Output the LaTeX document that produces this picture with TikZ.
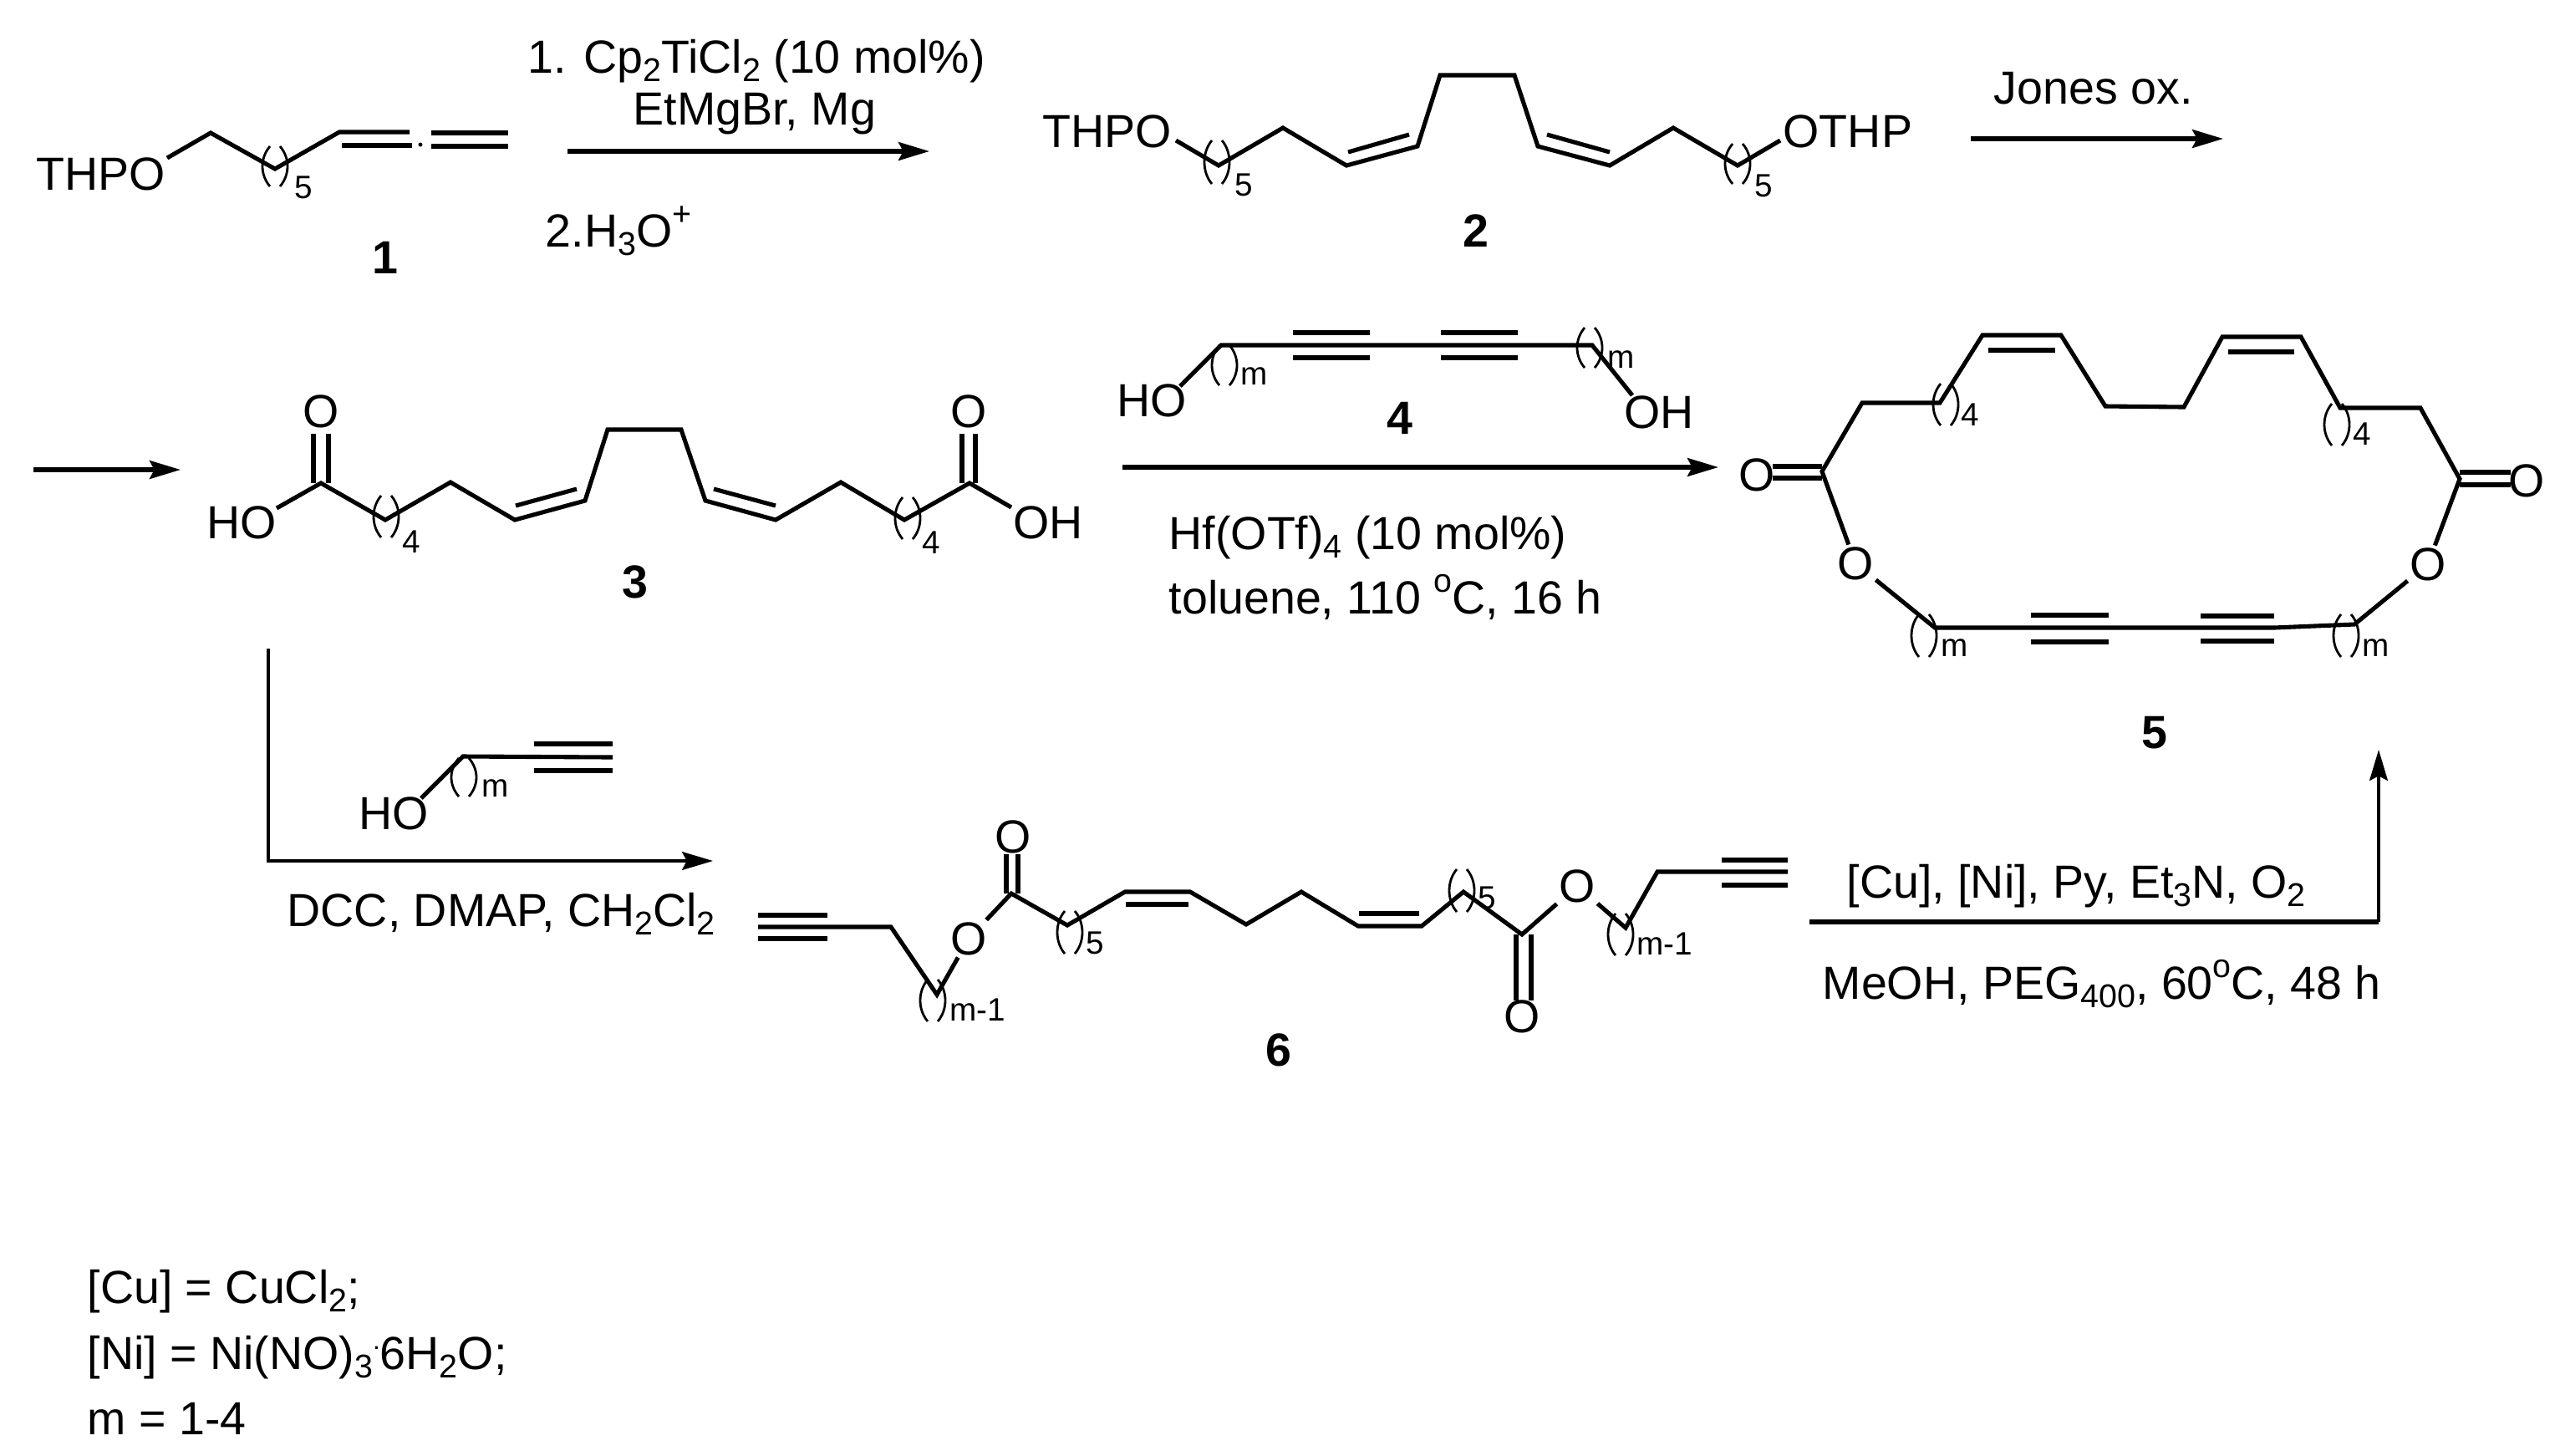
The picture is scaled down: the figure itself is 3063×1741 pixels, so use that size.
\documentclass[tikz,border=0pt]{standalone}
\usepackage{fontspec}
\setmainfont{Liberation Sans}
\usetikzlibrary{arrows.meta}

\newcommand{\chsub}[1]{\raisebox{-.18em}{\fontsize{11.2}{12}\selectfont #1}}
\newcommand{\chsup}[1]{\raisebox{.46em}{\fontsize{11.2}{12}\selectfont #1}}

\tikzset{
	bond/.style={line width=1.45pt},
	paren/.style={line width=.8pt},
	arrowline/.style={line width=1.45pt, -{Stealth[length=10.5pt,width=6.2pt,inset=1.6pt]}},
	elbowline/.style={line width=1pt, -{Stealth[length=10.5pt,width=6.2pt,inset=1.6pt]}},
	txt/.style={anchor=base west, inner sep=0pt, font=\fontsize{15.8}{18}\selectfont},
	atom/.style={inner sep=.6pt, font=\fontsize{15.8}{18}\selectfont},
	replab/.style={anchor=base west, inner sep=0pt, font=\fontsize{11}{12}\selectfont},
	cmpd/.style={inner sep=0pt, font=\fontsize{15.8}{18}\selectfont\bfseries}
}

\begin{document}
\begin{tikzpicture}[x=0.01cm, y=-0.01cm]
	\useasboundingbox (0,0) rectangle (3063,1741);

	\node[txt] (thpA) at (43,227) {THPO};
	\draw[bond] (200,189) -- (252,159) -- (329,202) -- (406,158) -- (490,158);
	\draw[bond] (409,174) -- (493,174);
	\draw[bond] (516,159) -- (608,159);
	\draw[bond] (516,175) -- (608,175);
	\fill (503,173) circle (2.5);
	\node[cmpd] (cmpdA) at (461,308) {1};

	\coordinate (stepAa) at (679,181);
	\coordinate (stepAb) at (1112,181);
	\draw[arrowline] (stepAa) -- (stepAb);
	\node[txt] (condAa) at (631,87) {1. Cp\chsub{2}TiCl\chsub{2} (10 mol\%)};
	\node[txt] (condAb) at (757,149) {EtMgBr, Mg};
	\node[txt] (condAc) at (652,295) {2.H\chsub{3}O\chsup{+}};

	\node[txt] (thpB) at (1247,176) {THPO};
	\node[txt] (thpC) at (2133,176) {OTHP};
	\draw[bond] (1407,168) -- (1458,198) -- (1535,153) -- (1611,198) -- (1696,175) -- (1723,90) -- (1812,90)
		-- (1840,175) -- (1926,198) -- (2002,153) -- (2079,198) -- (2130,168);
	\draw[bond] (1613,182) -- (1686,161);
	\draw[bond] (1851,161) -- (1926,182);
	\node[cmpd] (cmpdB) at (1766,276) {2};

	\coordinate (stepBa) at (2358,166);
	\coordinate (stepBb) at (2660,166);
	\draw[arrowline] (stepBa) -- (stepBb);
	\node[txt] (condB) at (2385,124) {Jones ox.};
	\coordinate (stepCa) at (40,562);
	\coordinate (stepCb) at (216,562);
	\draw[arrowline] (stepCa) -- (stepCb);

	\node[txt] (hoA) at (247,644) {HO};
	\node[txt] (ohA) at (1212,644) {OH};
	\node[atom] (oxA) at (384,492) {O};
	\node[atom] (oxB) at (1159,492) {O};
	\draw[bond] (331,608) -- (384,578) -- (461,622) -- (539,577) -- (616,622) -- (700,599) -- (727,514) -- (815,514)
		-- (844,599) -- (928,622) -- (1006,577) -- (1082,622) -- (1160,578) -- (1210,607);
	\draw[bond] (617,605) -- (690,585);
	\draw[bond] (854,585) -- (928,605);
	\draw[bond] (375,578) -- (375,519);
	\draw[bond] (393,578) -- (393,519);
	\draw[bond] (1151,578) -- (1151,519);
	\draw[bond] (1167,578) -- (1167,519);
	\node[cmpd] (cmpdC) at (760,696) {3};

	\node[txt] (hoB) at (1336,498) {HO};
	\node[txt] (ohB) at (1943,512) {OH};
	\draw[bond] (1412,462) -- (1461,413) -- (1905,413) -- (1953,473);
	\draw[bond] (1547,398) -- (1639,398);
	\draw[bond] (1547,428) -- (1639,428);
	\draw[bond] (1724,398) -- (1816,398);
	\draw[bond] (1724,428) -- (1816,428);
	\node[cmpd] (cmpdD) at (1675,500) {4};

	\coordinate (stepDa) at (1343,559);
	\coordinate (stepDb) at (2056,559);
	\draw[arrowline] (stepDa) -- (stepDb);
	\node[txt] (condDa) at (1398,657) {Hf(OTf)\chsub{4} (10 mol\%)};
	\node[txt] (condDb) at (1398,734) {toluene, 110 \chsup{o}C, 16 h};

	\node[atom] (oxC) at (2102,568) {O};
	\node[atom] (oxD) at (3023,575) {O};
	\node[atom] (oxE) at (2220,674) {O};
	\node[atom] (oxF) at (2905,675) {O};
	\draw[bond] (oxE) -- (2180,564) -- (2228,482) -- (2321,482) -- (2372,401) -- (2466,401) -- (2519,486) -- (2613,487)
		-- (2659,403) -- (2753,403) -- (2800,488) -- (2896,488) -- (2943,573) -- (oxF);
	\draw[bond] (oxE) -- (2315,751) -- (2721,751) -- (2817,747) -- (oxF);
	\draw[bond] (2379,419) -- (2459,419);
	\draw[bond] (2666,421) -- (2745,421);
	\draw[bond] (2121,558) -- (2180,558);
	\draw[bond] (2121,572) -- (2180,572);
	\draw[bond] (2943,565) -- (3004,565);
	\draw[bond] (2943,580) -- (3004,580);
	\draw[bond] (2430,736) -- (2523,736);
	\draw[bond] (2430,768) -- (2523,768);
	\draw[bond] (2633,737) -- (2721,737);
	\draw[bond] (2633,767) -- (2721,767);
	\node[cmpd] (cmpdE) at (2578,877) {5};

	\coordinate (stepEa) at (321,776);
	\coordinate (stepEb) at (321,1030);
	\coordinate (stepEc) at (853,1030);
	\draw[elbowline] (stepEa) -- (stepEb) -- (stepEc);
	\node[txt] (hoC) at (429,992) {HO};
	\draw[bond] (504,955) -- (554,905) -- (733,906);
	\draw[bond] (639,890) -- (733,890);
	\draw[bond] (639,922) -- (733,922);
	\node[txt] (condE) at (343,1108) {DCC, DMAP, CH\chsub{2}Cl\chsub{2}};

	\node[atom] (oxG) at (1159,1123) {O};
	\node[atom] (oxH) at (1212,1001) {O};
	\node[atom] (oxI) at (1821,1216) {O};
	\node[atom] (oxJ) at (1887,1060) {O};
	\draw[bond] (907,1109) -- (1066,1109) -- (1121,1190) -- (oxG);
	\draw[bond] (oxG) -- (1210,1069) -- (1277,1107) -- (1346,1067) -- (1424,1067) -- (1491,1106) -- (1557,1067) -- (1625,1108)
		-- (1701,1108) -- (1751,1067) -- (1821,1118) -- (oxJ);
	\draw[bond] (oxJ) -- (1945,1110) -- (1983,1043) -- (2139,1043);
	\draw[bond] (907,1095) -- (990,1095);
	\draw[bond] (907,1123) -- (990,1123);
	\draw[bond] (2060,1029) -- (2139,1029);
	\draw[bond] (2060,1059) -- (2139,1059);
	\draw[bond] (1347,1082) -- (1422,1082);
	\draw[bond] (1626,1093) -- (1698,1093);
	\draw[bond] (1204,1069) -- (1204,1022);
	\draw[bond] (1218,1069) -- (1218,1022);
	\draw[bond] (1814,1118) -- (1814,1197);
	\draw[bond] (1832,1118) -- (1832,1197);
	\node[cmpd] (cmpdF) at (1530,1256) {6};

	\coordinate (stepFa) at (2165,1103);
	\coordinate (stepFb) at (2846,1103);
	\coordinate (stepFc) at (2846,897);
	\draw[bond] (stepFa) -- (stepFb);
	\draw[elbowline] (stepFb) -- (stepFc);
	\node[txt] (condFa) at (2209,1074) {[Cu], [Ni], Py, Et\chsub{3}N, O\chsub{2}};
	\node[txt] (condFb) at (2180,1195) {MeOH, PEG\chsub{400}, 60\chsup{o}C, 48 h};

	\foreach \cx/\ty/\by in {329/175/223, 1456/168/220, 2079/172/220, 462/593/643, 1086/595/645, 1465/413/461,
		1902/392/440, 2328/459/509, 2796/483/533, 2302/735/786, 2807/735/786, 555/907/953, 1280/1090/1141,
		1116/1172/1222, 1749/1040/1091, 1939/1093/1143} {
		\draw[paren] (\cx-6,\ty) .. controls (\cx-18,\ty+14) and (\cx-18,\by-14) .. (\cx-6,\by);
		\draw[paren] (\cx+6,\ty) .. controls (\cx+18,\ty+14) and (\cx+18,\by-14) .. (\cx+6,\by);
	}
	\foreach \id/\lx/\ly/\lab in {a/352/237/5, b/1477/234/5, c/2099/235/5, d/481/661/4, e/1103/662/4, f/1484/460/m,
		g/1923/440/m, h/2346/509/4, i/2815/532/4, j/2322/785/m, k/2826/785/m, l/576/953/m, n/1299/1141/5,
		o/1136/1221/m-1, p/1768/1087/5, q/1958/1142/m-1} {
		\node[replab] (rep\id) at (\lx,\ly) {\lab};
	}

	\node[txt] (noteA) at (104,1559) {[Cu] = CuCl\chsub{2};};
	\node[txt] (noteB) at (104,1638) {[Ni] = Ni(NO)\chsub{3}\raisebox{.42em}{\fontsize{9}{9}\selectfont.}6H\chsub{2}O;};
	\node[txt] (noteC) at (104,1716) {m = 1-4};
\end{tikzpicture}
\end{document}
